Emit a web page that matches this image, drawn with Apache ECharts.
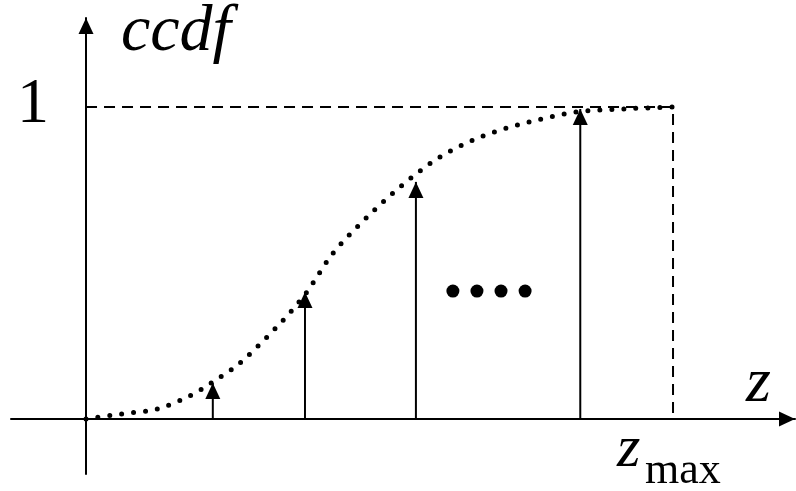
<!DOCTYPE html>
<html>
<head>
<meta charset="utf-8">
<script src="https://cdn.jsdelivr.net/npm/echarts@6/dist/echarts.min.js"></script>
<style>
    html, body { margin: 0; padding: 0; background: #fff; }
    #chart { width: 796px; height: 491px; }
</style>
</head>
<body>
<div id="chart"></div>
<script>
    // ccdf curve (z normalised so that zmax = 1)
    var curveZ    = [0, 0.060, 0.121, 0.177, 0.213, 0.262, 0.336, 0.375, 0.421, 0.477, 0.537, 0.603, 0.676, 0.755, 0.835, 0.917, 1];
    var curveCcdf = [0, 0.016, 0.032, 0.074, 0.115, 0.179, 0.317, 0.404, 0.532, 0.644, 0.747, 0.840, 0.907, 0.952, 0.984, 0.994, 1];

    // vertical arrows up to the curve
    var arrowZ    = [0.216, 0.373, 0.562, 0.842];
    var arrowCcdf = [0.115, 0.407, 0.760, 0.994];

    // the "...." between the arrows
    var dotsZ    = [0.625, 0.666, 0.707, 0.748];
    var dotsCcdf = [0.410, 0.410, 0.410, 0.410];

    var zMax = 1;
    var ccdfMax = 1;

    var chart = echarts.init(document.getElementById('chart'));

    function axisOpt(min, max) {
        return {
            type: 'value',
            min: min,
            max: max,
            axisLine: {
                onZero: true,
                symbol: ['none', 'triangle'],
                symbolSize: [15, 16],
                symbolOffset: [0, -8],
                lineStyle: { color: '#000', width: 2 }
            },
            axisTick: { show: false },
            axisLabel: { show: false },
            splitLine: { show: false }
        };
    }

    var series = [];

    // dashed box at ccdf = 1 and z = zmax
    series.push({
        type: 'line',
        data: [[0, ccdfMax], [zMax, ccdfMax], [zMax, 0]],
        symbol: 'none',
        silent: true,
        lineStyle: { color: '#000', width: 2, type: [11, 7] }
    });

    // dotted curve
    series.push({
        type: 'line',
        data: curveZ.map(function (z, i) { return [z, curveCcdf[i]]; }),
        smooth: 0.3,
        symbol: 'none',
        silent: true,
        lineStyle: { color: '#000', width: 5, type: [0, 12], cap: 'round' }
    });

    // arrows
    arrowZ.forEach(function (z, i) {
        series.push({
            type: 'line',
            data: [
                { value: [z, 0], symbol: 'none' },
                { value: [z, arrowCcdf[i]], symbol: 'triangle', symbolSize: [15, 16], symbolOffset: [0, '50%'] }
            ],
            showAllSymbol: true,
            silent: true,
            itemStyle: { color: '#000' },
            lineStyle: { color: '#000', width: 2 }
        });
    });

    // ....
    series.push({
        type: 'scatter',
        data: dotsZ.map(function (z, i) { return [z, dotsCcdf[i]]; }),
        symbol: 'circle',
        symbolSize: 13,
        silent: true,
        itemStyle: { color: '#000', opacity: 1 }
    });

    var serif = '"Liberation Serif", "DejaVu Serif", serif';

    var option = {
        animation: false,
        backgroundColor: '#fff',
        grid: { left: 11, right: 1, top: 18, bottom: 17 },
        xAxis: axisOpt(-0.1278, 1.2078),
        yAxis: axisOpt(-0.1763, 1.2853),
        series: series,
        graphic: [
            { type: 'text', left: 121, top: 0, style: { text: 'ccdf', font: 'italic 66px ' + serif, fill: '#000' } },
            { type: 'text', left: 17, top: 73, style: { text: '1', font: '64px ' + serif, fill: '#000' } },
            { type: 'text', left: 746, top: 352, style: { text: 'z', font: 'italic 64px ' + serif, fill: '#000' } },
            { type: 'text', left: 617, top: 420, style: { text: 'z', font: 'italic 60px ' + serif, fill: '#000' } },
            { type: 'text', left: 645, top: 449, style: { text: 'max', font: '44px ' + serif, fill: '#000' } }
        ]
    };
    chart.setOption(option);
</script>
</body>
</html>
